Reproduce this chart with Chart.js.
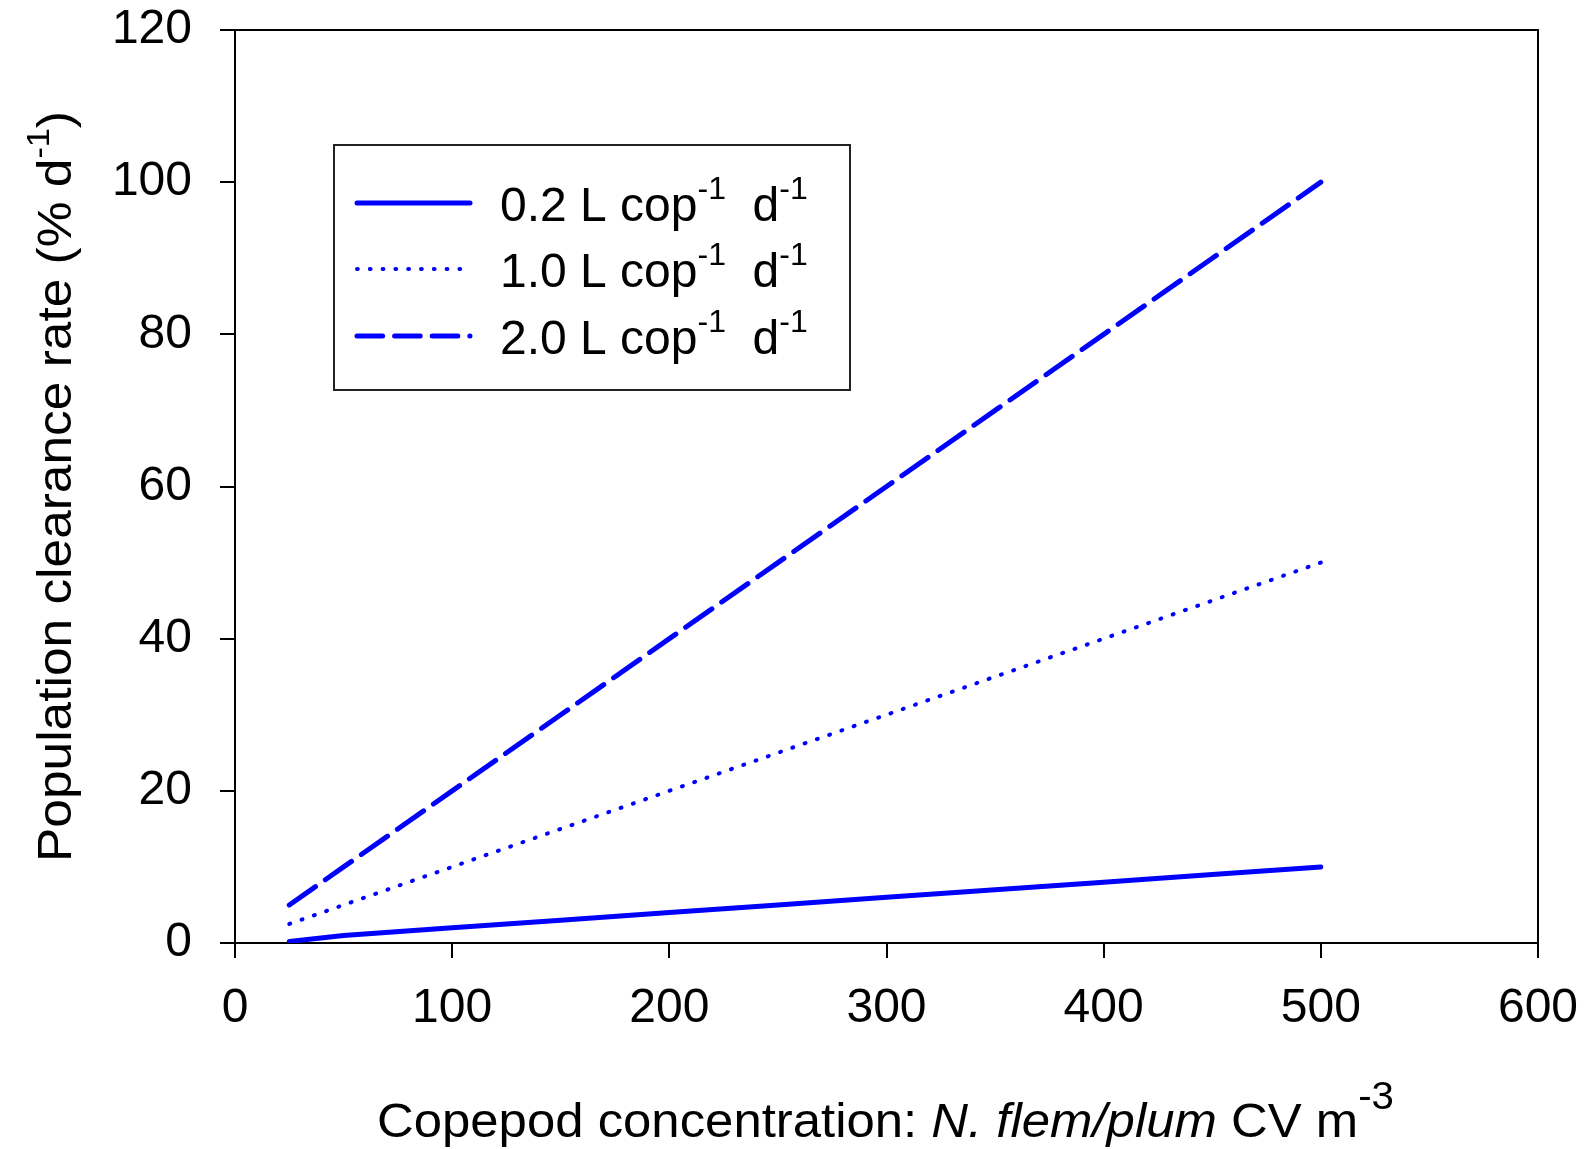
<!DOCTYPE html>
<html>
<head>
<meta charset="utf-8">
<script src="https://cdn.jsdelivr.net/npm/chart.js@4"></script>
<style>
  html, body { margin: 0; padding: 0; background: #fff; }
  canvas { display: block; }
</style>
</head>
<body>
<canvas id="grafico" width="1590" height="1149"></canvas>
<script>
// valores
const concentracao = [25, 50, 100, 150, 200, 250, 300, 350, 400, 450, 500];
const taxa02 = [0.2, 1, 2, 3, 4, 5, 6, 7, 8, 9, 10];
const taxa10 = [2.5, 5, 10, 15, 20, 25, 30, 35, 40, 45, 50];
const taxa20 = [5, 10, 20, 30, 40, 50, 60, 70, 80, 90, 100];
const ticksX = [0, 100, 200, 300, 400, 500, 600];
const ticksY = [0, 20, 40, 60, 80, 100, 120];
const rotulos = ['0.2', '1.0', '2.0'];

const AZUL = '#0000ff';
const FONTE = '"Liberation Sans", Arial, sans-serif';

const pontos = (ys) => concentracao.map((x, i) => ({ x, y: ys[i] }));

const series = [
  { label: rotulos[0], data: pontos(taxa02), borderWidth: 5, borderDash: [] },
  { label: rotulos[1], data: pontos(taxa10), borderWidth: 4, borderDash: [1, 12] },
  { label: rotulos[2], data: pontos(taxa20), borderWidth: 5, borderDash: [32, 12] }
];

// desenha uma sequencia de trechos (texto normal, italico, sobrescrito)
function larguraTrechos(ctx, trechos) {
  let w = 0;
  trechos.forEach((t) => { ctx.font = t.font; w += ctx.measureText(t.t).width; });
  return w;
}

function desenharTrechos(ctx, trechos, x, y) {
  let cx = x;
  trechos.forEach((t) => {
    ctx.font = t.font;
    ctx.fillText(t.t, cx, y - (t.dy || 0));
    cx += ctx.measureText(t.t).width;
  });
}

const normal = `48px ${FONTE}`;
const italico = `italic 48px ${FONTE}`;
const sobre = `32px ${FONTE}`;
const sobreX = `38px ${FONTE}`;

const extras = {
  id: 'extras',
  afterDraw(chart) {
    const { ctx, chartArea: a } = chart;
    ctx.save();
    ctx.strokeStyle = '#000';
    ctx.lineWidth = 2;
    ctx.beginPath();
    ctx.moveTo(a.left, a.top);
    ctx.lineTo(a.right, a.top);
    ctx.lineTo(a.right, a.bottom);
    ctx.stroke();

    // legenda
    ctx.fillStyle = '#fff';
    ctx.fillRect(334, 145, 516, 245);
    ctx.strokeStyle = '#222';
    ctx.strokeRect(334, 145, 516, 245);
    const linhasY = [203, 269, 336];
    series.forEach((s, i) => {
      ctx.strokeStyle = AZUL;
      ctx.lineWidth = s.borderWidth;
      ctx.lineCap = 'round';
      ctx.setLineDash(s.borderDash.length ? [s.borderDash[0] * 0.8, s.borderDash[1]] : []);
      ctx.beginPath();
      ctx.moveTo(357, linhasY[i]);
      ctx.lineTo(470, linhasY[i]);
      ctx.stroke();
      ctx.setLineDash([]);
      ctx.fillStyle = '#000';
      ctx.textBaseline = 'alphabetic';
      ctx.textAlign = 'left';
      desenharTrechos(ctx, [
        { t: `${s.label} L cop`, font: normal },
        { t: '-1', font: sobre, dy: 22 },
        { t: '  d', font: normal },
        { t: '-1', font: sobre, dy: 22 }
      ], 500, linhasY[i] + 18);
    });

    // titulo do eixo x
    const tx = [
      { t: 'Copepod concentration: ', font: normal },
      { t: 'N. flem/plum', font: italico },
      { t: ' CV m', font: normal },
      { t: '-3', font: sobreX, dy: 28 }
    ];
    let w = larguraTrechos(ctx, tx);
    ctx.save();
    ctx.translate(377, 1137);
    ctx.scale(1017 / w, 1);
    desenharTrechos(ctx, tx, 0, 0);
    ctx.restore();

    // titulo do eixo y
    const ty = [
      { t: 'Population clearance rate (% d', font: normal },
      { t: '-1', font: sobre, dy: 22 },
      { t: ')', font: normal }
    ];
    w = larguraTrechos(ctx, ty);
    ctx.save();
    ctx.translate(71, 862);
    ctx.rotate(-Math.PI / 2);
    ctx.scale(751 / w, 1);
    desenharTrechos(ctx, ty, 0, 0);
    ctx.restore();

    ctx.restore();
  }
};

new Chart(document.getElementById('grafico'), {
  type: 'line',
  data: {
    datasets: series.map((s) => ({
      label: s.label,
      data: s.data,
      borderColor: AZUL,
      backgroundColor: AZUL,
      borderWidth: s.borderWidth,
      borderDash: s.borderDash,
      borderCapStyle: 'round',
      pointRadius: 0,
      tension: 0,
      fill: false
    }))
  },
  options: {
    responsive: false,
    animation: false,
    devicePixelRatio: 1,
    layout: { padding: { top: 30, right: 52, left: 0, bottom: 0 } },
    plugins: { legend: { display: false }, tooltip: { enabled: false } },
    scales: {
      x: {
        type: 'linear',
        min: 0,
        max: 600,
        afterBuildTicks: (scale) => { scale.ticks = ticksX.map((v) => ({ value: v })); },
        afterFit: (scale) => {
          scale.height = 206;
          scale.paddingLeft = 0;
          scale.paddingRight = 0;
        },
        ticks: { color: '#000', font: { family: FONTE, size: 48 }, padding: 22, maxRotation: 0 },
        grid: { drawOnChartArea: false, drawTicks: true, tickLength: 15, tickColor: '#000', lineWidth: 2 },
        border: { display: true, color: '#000', width: 2 }
      },
      y: {
        min: 0,
        max: 120,
        afterBuildTicks: (scale) => { scale.ticks = ticksY.map((v) => ({ value: v })); },
        afterFit: (scale) => {
          scale.width = 235;
          scale.paddingTop = 0;
          scale.paddingBottom = 0;
        },
        ticks: { color: '#000', font: { family: FONTE, size: 48 }, padding: 28 },
        grid: { drawOnChartArea: false, drawTicks: true, tickLength: 15, tickColor: '#000', lineWidth: 2 },
        border: { display: true, color: '#000', width: 2 }
      }
    }
  },
  plugins: [extras]
});
</script>
</body>
</html>
